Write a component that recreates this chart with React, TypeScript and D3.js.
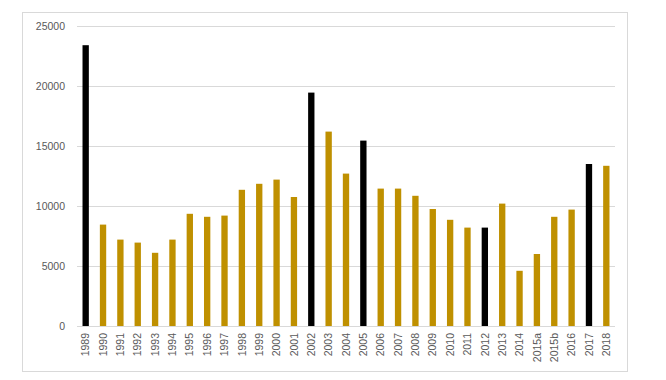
import React from "react";
import * as d3 from "d3";

const categories = ["1989","1990","1991","1992","1993","1994","1995","1996","1997","1998","1999","2000","2001","2002","2003","2004","2005","2006","2007","2008","2009","2010","2011","2012","2013","2014","2015a","2015b","2016","2017","2018"];
const values = [23400,8450,7200,6950,6100,7200,9350,9100,9200,11350,11850,12200,10750,19450,16200,12700,15450,11450,11450,10850,9750,8850,8200,8200,10200,4600,6000,9100,9700,13500,13350];
const highlighted = ["1989","2002","2005","2012","2017"];
const yTicks = [0,5000,10000,15000,20000,25000];

export default function App() {
  const W = 666, H = 380;
  const left = 77, right = 615, top = 26, bottom = 326;
  const x = d3.scaleBand<string>().domain(categories).range([left, right]).paddingInner(0.635).paddingOuter(0.3175);
  const y = d3.scaleLinear().domain([0, 25000]).range([bottom, top]);
  const font = "'Liberation Sans', Arial, sans-serif";
  return (
    <svg width={W} height={H} style={{ position: "absolute", left: 0, top: 0 }}>
      <rect x={0} y={0} width={W} height={H} fill="#fff" />
      <rect x={22.5} y={12.5} width={605} height={359} fill="#fff" stroke="#D9D9D9" strokeWidth={1} />
      {yTicks.map((t) => (
        <g key={t}>
          <line x1={left} x2={right} y1={Math.round(y(t)) + 0.5} y2={Math.round(y(t)) + 0.5} stroke="#D9D9D9" strokeWidth={1} />
          <text x={65} y={y(t)} dy="0.35em" textAnchor="end" fontFamily={font} fontSize={10.5} fill="#595959">{t}</text>
        </g>
      ))}
      {categories.map((c, i) => (
        <rect key={c} x={x(c)} width={x.bandwidth()} y={y(values[i])} height={bottom - y(values[i])}
          fill={highlighted.includes(c) ? "#000000" : "#BF9000"} />
      ))}
      {categories.map((c) => {
        const cx = (x(c) as number) + x.bandwidth() / 2;
        return (
          <text key={c} transform={`translate(${cx},333) rotate(-90)`} dy="0.35em" textAnchor="end"
            fontFamily={font} fontSize={10.5} fill="#595959">{c}</text>
        );
      })}
    </svg>
  );
}
